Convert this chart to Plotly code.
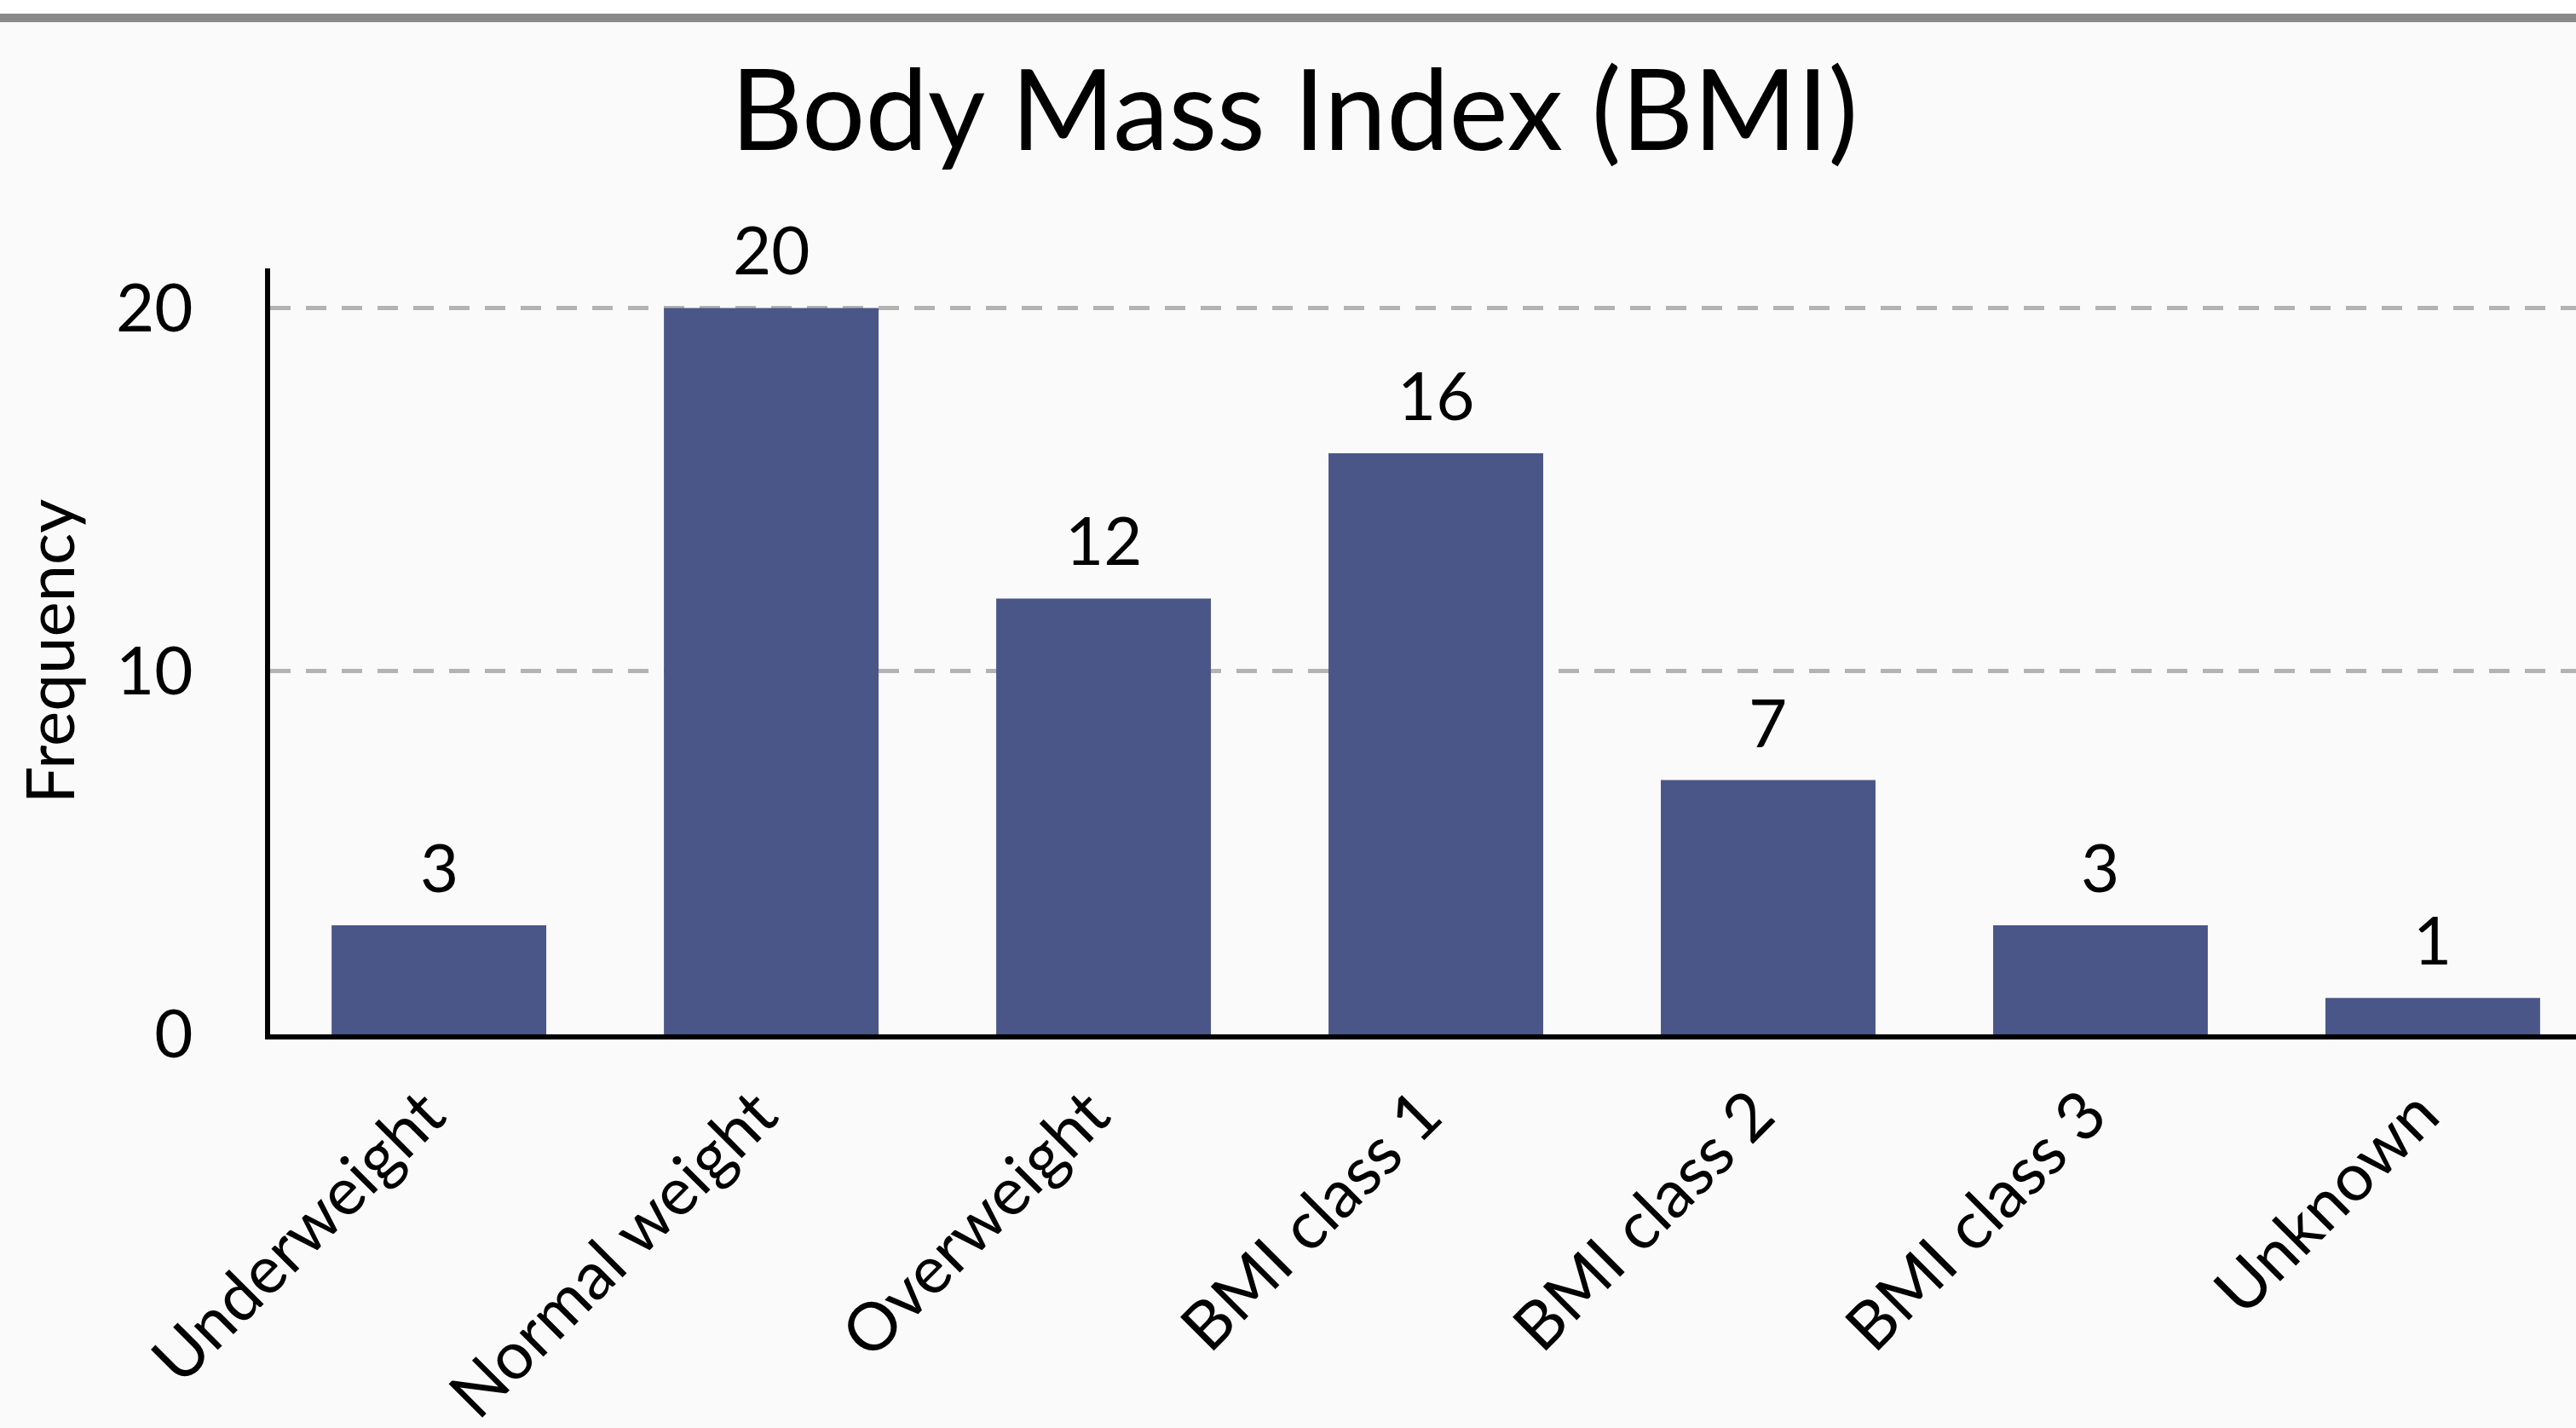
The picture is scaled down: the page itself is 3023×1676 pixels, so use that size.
import plotly.graph_objects as go

categories = ["Underweight", "Normal weight", "Overweight", "BMI class 1",
              "BMI class 2", "BMI class 3", "Unknown"]
counts = [3, 20, 12, 16, 7, 3, 1]
y_ticks = [0, 10, 20]
title_text = "Body Mass Index (BMI)"
y_title = "Frequency"

W, H = 3023, 1676
ML, MR, MT, MB = 317, 0, 315, 462
PH = H - MT - MB
PW = W - ML - MR

FONT = "Lato"
BAR_COLOR = "#4a5688"

fig = go.Figure()
fig.add_trace(go.Bar(
    x=list(range(len(categories))), y=counts,
    marker=dict(color=BAR_COLOR, line=dict(width=0)),
    width=0.646, hoverinfo="skip", showlegend=False,
))

for i, v in enumerate(counts):
    fig.add_annotation(x=i, y=v, text=str(v), showarrow=False,
                       xref="x", yref="y", yanchor="bottom", yshift=20,
                       font=dict(family=FONT, size=78, color="black"))

# axis title
fig.add_annotation(text=y_title, textangle=-90, showarrow=False,
                   xref="paper", yref="paper",
                   x=(56 - ML) / PW, y=0.5, xanchor="center", yanchor="middle",
                   font=dict(family=FONT, size=78, color="black"))

# top banner band
def py(px):
    return 1 + (MT - px) / PH

fig.add_shape(type="rect", xref="paper", yref="paper",
              x0=-ML / PW - 0.01, x1=1.01, y0=py(16), y1=py(-5),
              fillcolor="white", line=dict(width=0), layer="above")
fig.add_shape(type="rect", xref="paper", yref="paper",
              x0=-ML / PW - 0.01, x1=1.01, y0=py(26), y1=py(16),
              fillcolor="#898989", line=dict(width=0), layer="above")

fig.update_layout(
    width=W, height=H, autosize=False,
    margin=dict(l=ML, r=MR, t=MT, b=MB, pad=0, autoexpand=False),
    paper_bgcolor="#fafafa", plot_bgcolor="#fafafa",
    font=dict(family=FONT, size=78, color="black"),
    title=dict(text=title_text, x=(1519) / W, xanchor="center",
               y=1 - 130 / H, yanchor="middle", yref="container", automargin=False,
               font=dict(family=FONT, size=131, color="black")),
    xaxis=dict(
        range=[-0.508, 6.431], automargin=False,
        tickmode="array", tickvals=list(range(len(categories))), ticktext=categories,
        tickangle=-45, showgrid=False, zeroline=False,
        showline=True, linecolor="black", linewidth=6,
        ticks="", ticklabelstandoff=11, ticklabelshift=-16,
        tickfont=dict(family=FONT, size=78, color="black"),
        fixedrange=True,
    ),
    yaxis=dict(
        range=[0, 21.09], automargin=False,
        tickmode="array", tickvals=y_ticks,
        showgrid=True, gridcolor="#b3b3b3", gridwidth=5.5, griddash="24px,18px",
        zeroline=False,
        showline=True, linecolor="black", linewidth=6,
        ticks="", ticklabelstandoff=69,
        tickfont=dict(family=FONT, size=78, color="black"),
        fixedrange=True,
    ),
    bargap=0.354,
)

fig.write_html("out.html", config={"displayModeBar": False, "staticPlot": True},
               post_script="document.body.style.margin='0px';document.body.style.padding='0px';")
